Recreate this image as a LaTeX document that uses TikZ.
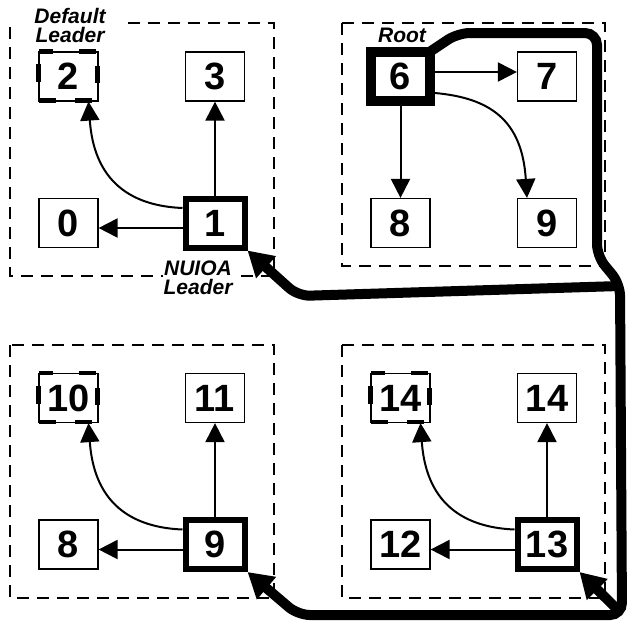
\documentclass[tikz,border=0pt]{standalone}
\usepackage{fontspec}
\setmainfont{Liberation Sans}
\usetikzlibrary{arrows.meta}
\newcommand\ldmark[1]{%
  \begin{scope}[shift={(#1.north west)}]
    \draw[ldash] (1,0) -- (15,0) (41,0) -- (58,0)
                 (1,49) -- (18,49) (37,49) -- (54,49)
                 (0,13) -- (0,31) (59,15) -- (59,32);
  \end{scope}}
\begin{document}
\begin{tikzpicture}[x=1pt, y=-1pt,
  box/.style={draw, fill=white, line width=1.2pt, minimum width=59pt, minimum height=49pt, inner sep=0pt, font=\fontsize{38}{40}\selectfont\bfseries},
  lead/.style={box, line width=6pt},
  rootbox/.style={box, line width=10pt},
  ldash/.style={line width=4.5pt},
  grp/.style={dash pattern=on 12pt off 8pt, line width=1.1pt},
  lbl/.style={font=\fontsize{21}{19}\selectfont\bfseries\itshape, align=center, inner sep=1pt},
  arr/.style={line width=2pt, -{Triangle[length=19pt,width=19pt]}},
  big/.style={line width=10pt, rounded corners=12pt, -{Triangle[length=25pt,width=28pt]}}
]
\useasboundingbox (0,0) rectangle (629,621);

% group boxes
\draw[grp] (128,23) -- (274,23) -- (274,276) -- (10,276) -- (10,23);
\draw[grp] (342,23) rectangle (605,266);
\draw[grp] (10,345) rectangle (274,598);
\draw[grp] (342,345) rectangle (605,598);

% top-left
\node[box]  (n2) at (68.5,76.5) {2};
\node[box]  (n3) at (215,76.5) {3};
\node[box]  (n0) at (68.5,223) {0};
\node[lead] (n1) at (215,223) {1};
\ldmark{n2}
% top-right
\node[rootbox] (n6) at (400.5,76.5) {6};
\node[box] (n7) at (547,76.5) {7};
\node[box] (n8) at (400.5,223) {8};
\node[box] (n9) at (547,223) {9};
% bottom-left
\node[box]  (n10) at (68.5,398) {10};
\node[box]  (n11) at (215,398) {11};
\node[box]  (n8b) at (68.5,544.5) {8};
\node[lead] (n9b) at (215,544.5) {9};
\ldmark{n10}
% bottom-right
\node[box]  (n14d) at (400.5,398) {14};
\node[box]  (n14) at (547,398) {14};
\node[box]  (n12) at (400.5,544.5) {12};
\node[lead] (n13) at (547,544.5) {13};
\ldmark{n14d}

% labels
\node[lbl, fill=white] (dl) at (70,25) {Default\\Leader};
\node[lbl, anchor=base] (rt) at (402,42) {Root};
\node[lbl, fill=white] (nl) at (198,278) {NUIOA\\Leader};

% thin arrows
\draw[arr] ([yshift=-5pt]n1.west) -- ([yshift=-5pt]n0.east);
\draw[arr] (n1.north) -- (n3.south);
\draw[arr] ([yshift=15pt]n1.west) .. controls +(-73,-3) and +(4,57) .. ([xshift=20pt]n2.south);

\draw[arr] ([yshift=4.5pt]n6.east) -- ([yshift=4.5pt]n7.west);
\draw[arr] (n6.south) -- (n8.north);
\draw[arr] ([yshift=-16.5pt]n6.east) .. controls +(55,5) and +(-5,-78) .. ([xshift=-20pt]n9.north);

\draw[arr] ([yshift=-5pt]n9b.west) -- ([yshift=-5pt]n8b.east);
\draw[arr] (n9b.north) -- (n11.south);
\draw[arr] ([yshift=15pt]n9b.west) .. controls +(-73,-3) and +(4,57) .. ([xshift=20pt]n10.south);

\draw[arr] ([yshift=-5pt]n13.west) -- ([yshift=-5pt]n12.east);
\draw[arr] (n13.north) -- (n14.south);
\draw[arr] ([yshift=15pt]n13.west) .. controls +(-73,-3) and +(4,57) .. ([xshift=20pt]n14d.south);

% thick leader paths
\draw[big] ([shift={(-4,4)}]n6.north east) -- (458,33) -- (597,33) -- (597,256) -- (620,284) -- (622,615) -- (298,615) -- (n9b.south east);
\draw[big] (620,286) -- (298,296) -- (n1.south east);
\draw[big] (619,611) -- (n13.south east);
\end{tikzpicture}
\end{document}
